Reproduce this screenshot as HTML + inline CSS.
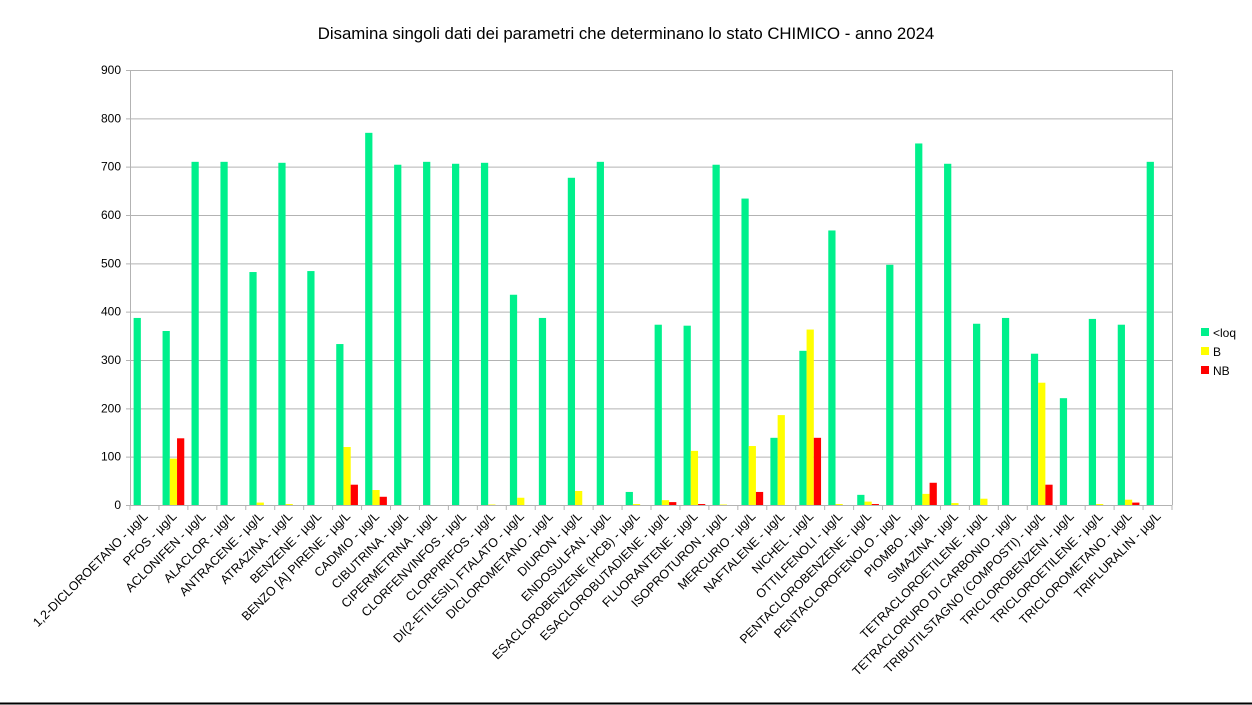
<!DOCTYPE html>
<html><head><meta charset="utf-8">
<style>
html,body{margin:0;padding:0;background:#fff;}
svg{display:block;font-family:"Liberation Sans",sans-serif;}
</style></head>
<body>
<svg id="chart" width="1252" height="705" viewBox="0 0 1252 705">
<rect x="0" y="0" width="1252" height="705" fill="#fff"/>
<line x1="0" y1="703.5" x2="1252" y2="703.5" stroke="#000" stroke-width="2"/>
<text x="626" y="39" font-size="16.8" text-anchor="middle" fill="#000">Disamina singoli dati dei parametri che determinano lo stato CHIMICO - anno 2024</text>
<g id="grid"></g>
<g id="bars"></g>
<g id="xlabels"></g>
<g id="legend">
  <rect x="1201" y="328" width="8" height="8" fill="#00f08c"/>
  <text x="1213" y="337" font-size="12">&lt;loq</text>
  <rect x="1201" y="347" width="8" height="8" fill="#ffff00"/>
  <text x="1213" y="356" font-size="12">B</text>
  <rect x="1201" y="366" width="8" height="8" fill="#ff0000"/>
  <text x="1213" y="375" font-size="12">NB</text>
</g>
</svg>
<script>
const categories = ["1,2-DICLOROETANO - µg/L","PFOS - µg/L","ACLONIFEN - µg/L","ALACLOR - µg/L","ANTRACENE - µg/L","ATRAZINA - µg/L","BENZENE - µg/L","BENZO [A] PIRENE - µg/L","CADMIO - µg/L","CIBUTRINA - µg/L","CIPERMETRINA - µg/L","CLORFENVINFOS - µg/L","CLORPIRIFOS - µg/L","DI(2-ETILESIL) FTALATO - µg/L","DICLOROMETANO - µg/L","DIURON - µg/L","ENDOSULFAN - µg/L","ESACLOROBENZENE (HCB) - µg/L","ESACLOROBUTADIENE - µg/L","FLUORANTENE - µg/L","ISOPROTURON - µg/L","MERCURIO - µg/L","NAFTALENE - µg/L","NICHEL - µg/L","OTTILFENOLI - µg/L","PENTACLOROBENZENE - µg/L","PENTACLOROFENOLO - µg/L","PIOMBO - µg/L","SIMAZINA - µg/L","TETRACLOROETILENE - µg/L","TETRACLORURO DI CARBONIO - µg/L","TRIBUTILSTAGNO (COMPOSTI) - µg/L","TRICLOROBENZENI - µg/L","TRICLOROETILENE - µg/L","TRICLOROMETANO - µg/L","TRIFLURALIN - µg/L"];
const loq = [387,360,710,710,482,708,484,333,770,704,710,706,708,435,387,677,710,27,373,371,704,634,139,319,568,21,497,748,706,375,387,313,221,385,373,710];
const bVals = [0,96,0,0,5,2,0,120,31,0,0,0,1,15,0,29,0,2,10,112,1,122,186,363,2,7,0,23,4,13,0,253,0,2,11,0];
const nbVals = [0,138,0,0,0,0,0,42,17,0,0,0,0,0,0,0,0,0,6,2,0,27,0,139,0,2,0,46,0,0,0,42,0,0,5,0];
const yTicks = [0,100,200,300,400,500,600,700,800,900];

const NS="http://www.w3.org/2000/svg";
const X0=130, X1=1172, Y0=505, Y1=70, YMAX=900;
const step=(X1-X0)/categories.length;
const bw=step/4;
function y(v){return Y0-(v/YMAX)*(Y0-Y1);}
function xc(i){return X0+i*step;}
function mk(tag,attrs,parent){const e=document.createElementNS(NS,tag);for(const k in attrs)e.setAttribute(k,attrs[k]);parent.appendChild(e);return e;}
const grid=document.getElementById('grid'),bars=document.getElementById('bars'),xl=document.getElementById('xlabels');
yTicks.forEach(t=>{
  const l=mk('line',{x1:X0-4,x2:X1,y1:y(t)+0.5,y2:y(t)+0.5,stroke:'#b3b3b3','stroke-width':1},grid);
  
  
  const tx=mk('text',{x:X0-9,y:y(t)+4,'font-size':12,'text-anchor':'end',fill:'#000'},grid);
  tx.textContent=t;
  
  
});
const ya=mk('line',{x1:X0+0.5,x2:X0+0.5,y1:Y1,y2:Y0,stroke:'#b3b3b3'},grid);


const xa=mk('line',{x1:X1+0.5,x2:X1+0.5,y1:Y1,y2:Y0,stroke:'#b3b3b3'},grid);


for(let i=0;i<=categories.length;i++){
  const t=mk('line',{x1:xc(i),x2:xc(i),y1:Y0,y2:Y0+5,stroke:'#b3b3b3'},grid);
  
  
}
const series=[[loq,'#00f08c','loq'],[bVals,'#ffff00','b'],[nbVals,'#ff0000','nb']];
categories.forEach((c,i)=>{
  series.forEach((s,j)=>{
    const v=s[0][i]; if(!v) return;
    const r=mk('rect',{x:xc(i)+bw/2+j*bw,y:y(v),width:bw,height:Y0-y(v),fill:s[1]},bars);
    
    
  });
  const cx=xc(i)+step/2+4, cy=517;
  const tx=mk('text',{x:cx,y:cy,'font-size':12.5,'text-anchor':'end',fill:'#000',transform:'rotate(-45 '+cx+' '+cy+')'},xl);
  tx.textContent=c;
  
  
});
</script>
</body></html>
